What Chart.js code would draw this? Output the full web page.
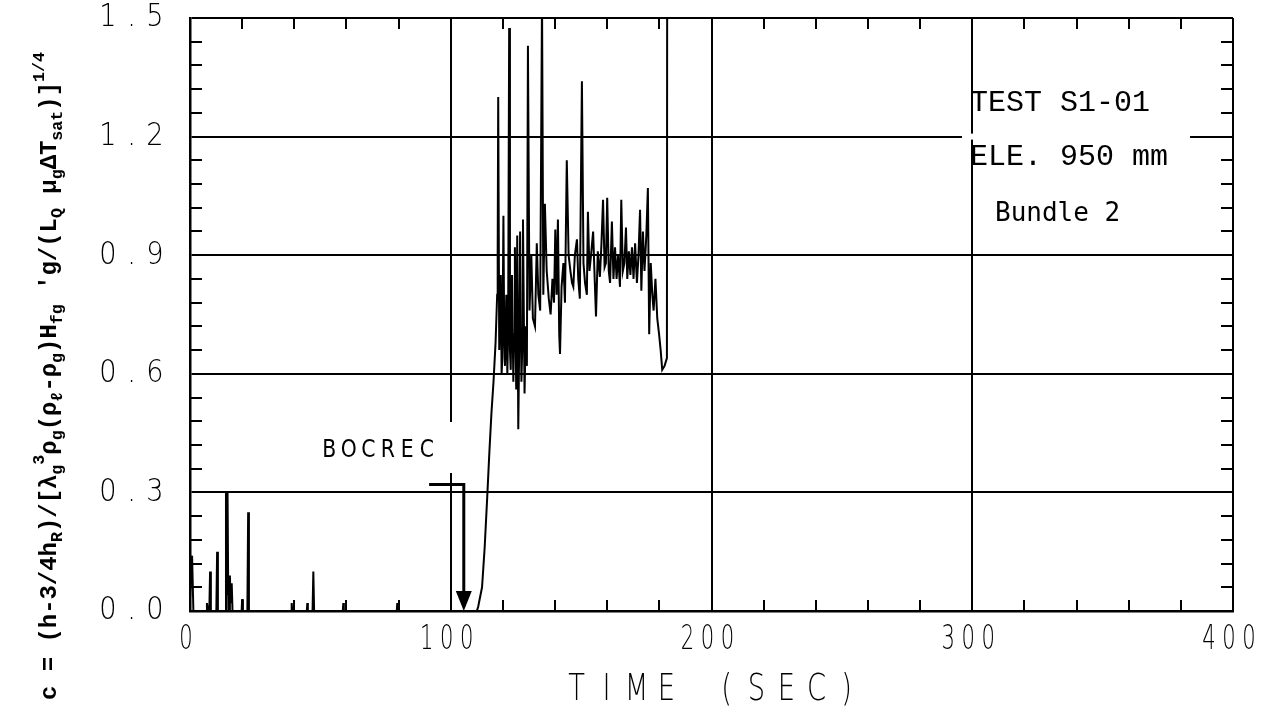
<!DOCTYPE html>
<html>
<head>
<meta charset="utf-8">
<title>TEST S1-01 Bundle 2</title>
<script src="https://cdn.jsdelivr.net/npm/chart.js@4.4.1/dist/chart.umd.min.js"></script>
<style>
  html, body { margin: 0; padding: 0; background: #fff; }
  #chart { display: block; }
</style>
</head>
<body>
<canvas id="chart" width="1278" height="715"></canvas>
<script>
// Axis ticks and labels
const xTickValues = [0, 100, 200, 300, 400];
const xTickLabels = ['0', '100', '200', '300', '400'];
const yTickValues = [0, 0.3, 0.6, 0.9, 1.2, 1.5];
const yTickLabels = ['0.0', '0.3', '0.6', '0.9', '1.2', '1.5'];
const xMinorStep = 20;
const yMinorStep = 0.06;

// Quench spikes before reflood (time in sec, C)
const quenchTime = [0, 0.8, 1.3, 6.2, 6.5, 6.9, 7.4, 7.7, 8.0, 10.1, 10.4, 10.7,
  13.5, 13.8, 14.1, 14.4, 14.7, 15.1, 15.3, 15.6, 16.0, 16.3, 19.8, 20.0, 20.3,
  22.0, 22.3, 22.6, 38.8, 39.0, 39.2, 44.8, 45.0, 45.2, 47.0, 47.3, 47.6,
  58.6, 58.8, 59.0, 79.3, 79.5, 79.7, 110.0];
const quenchC = [0.03, 0.14, 0, 0, 0.02, 0, 0, 0.10, 0, 0, 0.15, 0,
  0, 0.30, 0.04, 0.30, 0, 0, 0.09, 0.02, 0.07, 0, 0, 0.03, 0,
  0, 0.25, 0, 0, 0.02, 0, 0, 0.02, 0, 0, 0.10, 0,
  0, 0.02, 0, 0, 0.02, 0, 0];

// Reflood period
const refloodTime = [110.5, 112.0, 113.0, 114.0, 114.8, 115.6, 116.4, 117.2, 117.8, 118.0,
  118.2, 118.6, 118.9, 119.2, 119.5, 119.8, 120.2, 120.5, 120.8, 121.3,
  121.7, 122.0, 122.4, 122.7, 123.0, 123.5, 124.0, 124.3, 124.6, 125.1,
  125.5, 125.9, 126.3, 126.6, 127.1, 127.4, 127.7, 128.3, 128.8, 129.2,
  129.6, 130.2, 130.9, 131.5, 132.3, 133.0, 133.6, 134.3, 135.0, 135.5,
  136.1, 136.8, 137.6, 138.3, 139.0, 139.6, 140.1, 140.6, 141.1, 141.6,
  141.9, 142.5, 143.2, 143.8, 144.5, 145.2, 145.9, 146.5, 147.0, 147.6,
  148.4, 148.9, 149.5, 150.3, 150.9, 151.5, 152.2, 152.6, 153.2, 153.8,
  154.6, 155.2, 155.7, 156.4, 157.2, 157.8, 158.4, 159.0, 159.5, 160.0,
  160.6, 161.1, 161.8, 162.4, 163.0, 163.6, 164.2, 164.9, 165.4, 166.0,
  166.6, 167.2, 167.7, 168.3, 168.9, 169.5, 170.1, 170.7, 171.4, 172.0,
  172.6, 173.1, 173.7, 174.3, 175.0, 175.6, 176.1, 176.7, 177.3, 177.8,
  178.5, 179.2, 179.9, 180.5, 181.1, 182.0, 182.9, 183.0];
const refloodC = [0.01, 0.06, 0.16, 0.29, 0.40, 0.50, 0.58, 0.68, 0.80, 0.90,
  1.30, 0.66, 0.78, 0.85, 0.60, 0.64, 1.00, 0.70, 0.62, 0.80,
  0.60, 0.70, 1.475, 0.66, 0.61, 0.85, 0.58, 0.70, 0.92, 0.56,
  0.95, 0.46, 0.70, 0.96, 0.58, 0.66, 0.99, 0.55, 0.72, 0.62,
  1.43, 0.76, 0.90, 0.74, 0.72, 0.93, 0.80, 0.76, 1.55, 0.80,
  1.03, 0.86, 0.79, 0.75, 0.84, 0.78, 0.965, 0.80, 0.99, 0.70,
  0.65, 0.82, 0.88, 0.78, 1.14, 0.90, 0.86, 0.83, 0.82, 0.90,
  0.94, 0.84, 0.79, 1.34, 0.88, 0.83, 0.80, 1.01, 0.86, 0.90,
  0.96, 0.84, 0.745, 0.91, 0.845, 0.93, 1.04, 0.87, 0.88, 1.045,
  0.86, 0.83, 0.985, 0.84, 0.92, 0.84, 0.90, 0.82, 1.04, 0.86,
  0.88, 0.97, 0.84, 0.91, 0.85, 0.92, 0.84, 0.93, 0.83, 0.90,
  1.015, 0.81, 0.96, 0.86, 0.95, 1.07, 0.70, 0.88, 0.80, 0.76,
  0.84, 0.74, 0.70, 0.66, 0.61, 0.62, 0.64, 1.60];

// BOCREC marker (sec, C)
const bocrecTime = 105;
const bocrecTailTime = 91.7;
const bocrecTop = 0.32;

// y-axis title pieces: n = normal, b = subscript, p = superscript
const yTitleParts = [
  ['c = (h-3/4h', 'n'], ['R', 'b'], [')/[\u03bb', 'n'], ['g', 'b'], ['3', 'p'],
  ['\u03c1', 'n'], ['g', 'b'], ['(\u03c1', 'n'], ['\u2113', 'b'], ['-\u03c1', 'n'], ['g', 'b'],
  [')H', 'n'], ['fg', 'b'], [" 'g/(L", 'n'], ['Q', 'b'], [' \u03bc', 'n'], ['g', 'b'],
  ['\u0394T', 'n'], ['sat', 'b'], [')]', 'n'], ['1/4', 'p']
];

const points = quenchTime.map((t, i) => ({ x: t, y: quenchC[i] }))
  .concat(refloodTime.map((t, i) => ({ x: t, y: refloodC[i] })));

// draw a string one glyph at a time with a fixed pitch, glyphs squeezed by sx
function spacedText(ctx, text, cx, cy, pitch, sx) {
  const start = cx - pitch * (text.length - 1) / 2;
  for (let i = 0; i < text.length; i++) {
    ctx.save();
    ctx.translate(start + i * pitch, cy);
    ctx.scale(sx, 1);
    ctx.fillText(text[i], 0, 0);
    ctx.restore();
  }
}

// rotated formula with sub/superscripts, stretched to fill a span
function drawYTitle(ctx, baseX, bottomY, topY) {
  const big = 'bold 23px "Liberation Mono"';
  const small = 'bold 16px "Liberation Mono"';
  ctx.save();
  ctx.translate(baseX, bottomY);
  ctx.rotate(-Math.PI / 2);
  ctx.textAlign = 'left';
  ctx.textBaseline = 'alphabetic';
  let total = 0;
  yTitleParts.forEach(([s, k]) => {
    ctx.font = k === 'n' ? big : small;
    total += ctx.measureText(s).width;
  });
  ctx.scale((bottomY - topY) / total, 1);
  let pos = 0;
  yTitleParts.forEach(([s, k]) => {
    ctx.font = k === 'n' ? big : small;
    const dy = k === 'b' ? 6 : (k === 'p' ? -12 : 0);
    ctx.fillText(s, pos, dy);
    pos += ctx.measureText(s).width;
  });
  ctx.restore();
}

const frameInk = {
  id: 'frameInk',
  // clear the grid behind the annotation labels
  beforeDatasetsDraw(chart) {
    const { ctx, scales: { x, y } } = chart;
    ctx.save();
    ctx.fillStyle = '#fff';
    const y12 = y.getPixelForValue(1.2);
    ctx.fillRect(962, y12 - 3, 228, 6);
    const x100 = x.getPixelForValue(100);
    ctx.fillRect(x100 - 3, 422, 6, 51);
    ctx.restore();
  },
  afterDraw(chart) {
    const { ctx, chartArea: a, scales: { x, y } } = chart;
    ctx.save();
    ctx.strokeStyle = '#000';
    ctx.fillStyle = '#000';
    ctx.lineWidth = 2;

    // minor ticks pointing inward on all four sides
    ctx.beginPath();
    for (let v = xMinorStep; v < 400; v += xMinorStep) {
      if (v % 100 === 0) continue;
      const px = Math.round(x.getPixelForValue(v));
      ctx.moveTo(px, a.top); ctx.lineTo(px, a.top + 11);
      ctx.moveTo(px, a.bottom); ctx.lineTo(px, a.bottom - 11);
    }
    for (let k = 1; k < 25; k++) {
      if (k % 5 === 0) continue;
      const py = Math.round(y.getPixelForValue(k * yMinorStep));
      ctx.moveTo(a.left, py); ctx.lineTo(a.left + 12, py);
      ctx.moveTo(a.right, py); ctx.lineTo(a.right - 12, py);
    }
    ctx.stroke();

    // tick labels
    ctx.textAlign = 'center';
    ctx.textBaseline = 'middle';
    ctx.font = '200 32px "DejaVu Sans"';
    yTickValues.forEach((v, i) => {
      spacedText(ctx, yTickLabels[i], 131.5, y.getPixelForValue(v), 23.5, 0.85);
    });
    ctx.font = '200 34px "DejaVu Sans"';
    xTickValues.forEach((v, i) => {
      spacedText(ctx, xTickLabels[i], x.getPixelForValue(v) - 4, 640, 20, 0.62);
    });

    // x-axis title
    ctx.font = '200 38px "DejaVu Sans"';
    spacedText(ctx, 'TIME (SEC)', (a.left + a.right) / 2, 690, 30, 0.72);

    // y-axis title
    drawYTitle(ctx, 56, 700, 52);

    // annotations
    ctx.textAlign = 'left';
    ctx.font = '30px "Liberation Mono"';
    ctx.fillText('TEST S1-01', 970, 103);
    ctx.fillText('ELE. 950 mm', 970, 157);
    ctx.font = '26px "DejaVu Sans Mono"';
    ctx.fillText('Bundle 2', 995, 214);
    ctx.textAlign = 'center';
    ctx.font = '24px "DejaVu Sans"';
    spacedText(ctx, 'BOCREC', 378, 451, 19.5, 0.85);

    // BOCREC arrow
    const ax = x.getPixelForValue(bocrecTime);
    const tx = x.getPixelForValue(bocrecTailTime);
    const ty = y.getPixelForValue(bocrecTop);
    ctx.lineWidth = 3;
    ctx.beginPath();
    ctx.moveTo(tx, ty); ctx.lineTo(ax, ty); ctx.lineTo(ax, a.bottom - 14);
    ctx.stroke();
    ctx.beginPath();
    ctx.moveTo(ax - 8, a.bottom - 20);
    ctx.lineTo(ax + 8, a.bottom - 20);
    ctx.lineTo(ax, a.bottom);
    ctx.closePath();
    ctx.fill();
    ctx.restore();
  }
};

new Chart(document.getElementById('chart'), {
  type: 'scatter',
  data: {
    datasets: [{
      data: points,
      showLine: true,
      borderColor: '#000',
      borderWidth: 2,
      pointRadius: 0,
      tension: 0
    }]
  },
  options: {
    responsive: false,
    animation: false,
    devicePixelRatio: 1,
    layout: { padding: { left: 0, top: 18, right: 45, bottom: 0 } },
    plugins: { legend: { display: false }, tooltip: { enabled: false } },
    scales: {
      x: {
        type: 'linear',
        min: 0,
        max: 400,
        ticks: { stepSize: 100, display: false },
        grid: { color: '#000', lineWidth: 2, drawTicks: false },
        border: { color: '#000', width: 2.5 },
        afterFit(scale) { scale.height = 104; }
      },
      y: {
        type: 'linear',
        min: 0,
        max: 1.5,
        ticks: { stepSize: 0.3, display: false },
        grid: { color: '#000', lineWidth: 2, drawTicks: false },
        border: { color: '#000', width: 2.5 },
        afterFit(scale) { scale.width = 190; }
      }
    }
  },
  plugins: [frameInk]
});
</script>
</body>
</html>
